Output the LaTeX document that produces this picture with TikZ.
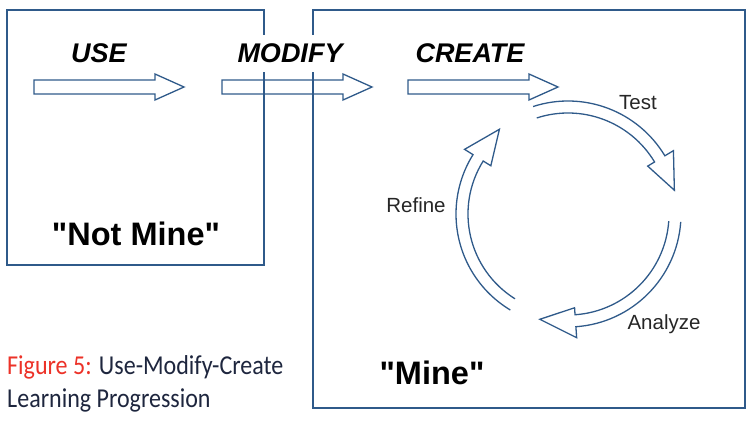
\documentclass[tikz,border=0pt]{standalone}
\usepackage{fontspec}
\setmainfont{Liberation Sans}
\newfontfamily\capfont[FakeStretch=0.88]{Carlito}
\definecolor{linecol}{RGB}{47,90,138}
\definecolor{capred}{RGB}{236,50,40}
\definecolor{capnavy}{RGB}{30,38,62}
\tikzset{
  boxline/.style={draw=linecol, line width=1.3pt},
  cycline/.style={draw=linecol, line width=1.3pt, line join=miter},
  headtext/.style={font=\fontsize{27}{30}\selectfont\bfseries\itshape, text=black},
  mine/.style={font=\fontsize{32.5}{36}\selectfont\bfseries, text=black},
  steplabel/.style={font=\fontsize{20.5}{24}\selectfont, text=black!85},
  captext/.style={anchor=base west, inner sep=0pt, font=\capfont\fontsize{27.3}{30}\selectfont, text=capnavy},
  flatarrow/.pic={\draw[cycline] (0,-7) -- (121,-7) -- (121,-13) -- (150,0) -- (121,13) -- (121,7) -- (0,7) -- cycle;}
}
\begin{document}
\begin{tikzpicture}[x=1pt,y=-1pt]
\useasboundingbox (0,0) rectangle (746,420);
% boxes
\draw[boxline] (7,10) rectangle (264,265);
\draw[boxline] (313,10) rectangle (745,408);
% straight arrows
\pic at (34,87) {flatarrow};
\pic at (222,87) {flatarrow};
\pic at (408,87) {flatarrow};
% headings
\node[headtext] (use) at (99,53) {USE};
\node[headtext, fill=white, inner sep=0pt, minimum width=112pt, minimum height=37pt] (modify) at (290,53.5) {MODIFY};
\node[headtext] (create) at (470,53) {CREATE};
% ownership labels
\node[mine] (notmine) at (136,234) {\textquotedbl Not Mine\textquotedbl};
\node[mine] (mine) at (432,373) {\textquotedbl Mine\textquotedbl};
% cycle
\coordinate (C) at (568,214);
\begin{scope}[shift={(C)}]
  \draw[cycline] (108:113pt) arc[start angle=108, end angle=31, radius=113pt]
     -- (31:123pt) -- (12.6:109pt) -- (31:93pt) -- (31:101pt)
     arc[start angle=31, end angle=108, radius=101pt];
  \draw[cycline] (-4:113pt) arc[start angle=-4, end angle=-86, radius=113pt]
     -- (-86:124pt) -- (-105:109pt) -- (-86:94pt) -- (-86:101pt)
     arc[start angle=-86, end angle=-4, radius=101pt];
  \draw[cycline] (239:112pt) arc[start angle=239, end angle=148, radius=112pt]
     -- (148:122pt) -- (129:109pt) -- (148:91pt) -- (148:100pt)
     arc[start angle=148, end angle=238, radius=100pt];
\end{scope}
\node[steplabel] (test) at (638,103) {Test};
\node[steplabel] (analyze) at (664,324) {Analyze};
\node[steplabel] (refine) at (416,205) {Refine};
% caption
\node[captext] (cap1) at (7,374) {\textcolor{capred}{Figure 5:} Use-Modify-Create};
\node[captext] (cap2) at (7,407) {Learning Progression};
\end{tikzpicture}
\end{document}
